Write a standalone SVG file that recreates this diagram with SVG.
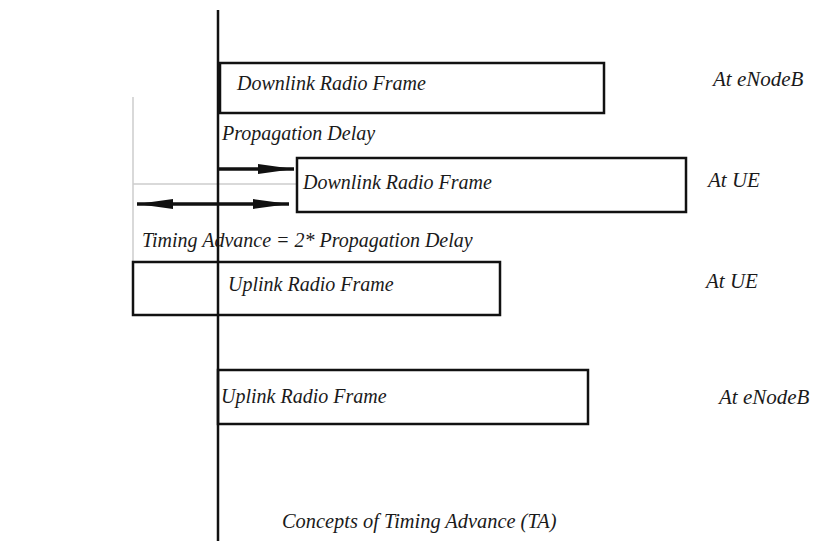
<svg xmlns="http://www.w3.org/2000/svg" width="825" height="555" viewBox="0 0 825 555">
  <style>
    .frame { fill: #ffffff; stroke: #111111; stroke-width: 2.5; }
    .lbl { font-family: "Liberation Serif", "Times New Roman", serif; font-style: italic; font-size: 20px; fill: #1a1a1a; }
    .side { font-family: "Liberation Serif", "Times New Roman", serif; font-style: italic; font-size: 21px; fill: #1a1a1a; }
    .caption { font-family: "Liberation Serif", "Times New Roman", serif; font-style: italic; font-size: 20.4px; fill: #1a1a1a; }
    .guide { stroke: #cccccc; stroke-width: 1.5; fill: none; }
    .axis { stroke: #111111; stroke-width: 2.5; }
    .arrow { stroke: #111111; stroke-width: 3.5; fill: none; }
  </style>
  <defs>
    <!-- long tapered arrowhead -->
    <marker id="head" viewBox="0 0 36 10" refX="36" refY="5" markerWidth="36" markerHeight="10" markerUnits="userSpaceOnUse" orient="auto-start-reverse">
      <path d="M0,0 L36,5 L0,10 Z" fill="#111111"/>
    </marker>
  </defs>
  <rect width="825" height="555" fill="#ffffff"/>

  <!-- thin guide lines -->
  <g id="guides">
    <line class="guide" x1="133" y1="97" x2="133" y2="262"/>
    <line class="guide" x1="133" y1="184" x2="297" y2="184"/>
  </g>

  <g id="dl-enb">
    <rect class="frame" x="220" y="63" width="384" height="50"/>
    <text class="lbl" x="237" y="90">Downlink Radio Frame</text>
  </g>

  <g id="dl-ue">
    <rect class="frame" x="297" y="158" width="389" height="54"/>
    <text class="lbl" x="303" y="189">Downlink Radio Frame</text>
  </g>

  <g id="ul-ue">
    <rect class="frame" x="133" y="262" width="367" height="53"/>
    <text class="lbl" x="228" y="291">Uplink Radio Frame</text>
  </g>

  <g id="ul-enb">
    <rect class="frame" x="218" y="370" width="370" height="54"/>
    <text class="lbl" x="221" y="403">Uplink Radio Frame</text>
  </g>

  <!-- time reference axis -->
  <line class="axis" x1="218" y1="10" x2="218" y2="541"/>

  <g id="connectors">
    <!-- propagation delay -->
    <line class="arrow" x1="219" y1="169" x2="294" y2="169" marker-end="url(#head)"/>
    <!-- timing advance -->
    <line class="arrow" x1="137" y1="204" x2="218" y2="204" marker-start="url(#head)"/>
    <line class="arrow" x1="218" y1="204" x2="289" y2="204" marker-end="url(#head)"/>
  </g>

  <text class="lbl" x="222" y="140">Propagation Delay</text>
  <text class="lbl" x="142" y="247">Timing Advance = 2* Propagation Delay</text>

  <text class="side" x="713" y="86">At eNodeB</text>
  <text class="side" x="708" y="187">At UE</text>
  <text class="side" x="706" y="288">At UE</text>
  <text class="side" x="719" y="404">At eNodeB</text>

  <text class="caption" x="282" y="528">Concepts of Timing Advance (TA)</text>
</svg>
